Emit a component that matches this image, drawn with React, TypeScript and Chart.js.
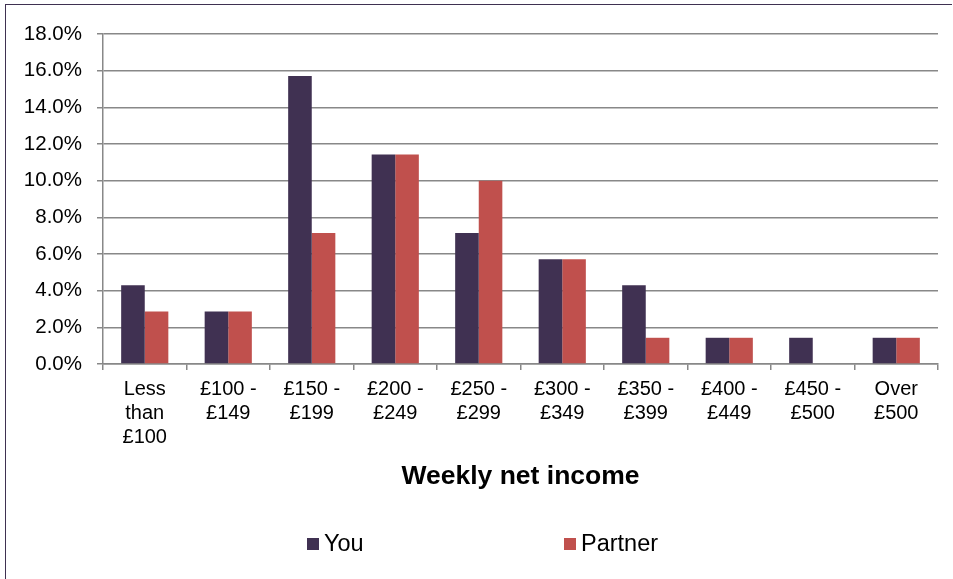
import React, { useEffect, useRef } from "react";
import { Chart, registerables } from "chart.js";

Chart.register(...registerables);

const categories: string[][] = [
  ["Less", "than", "£100"],
  ["£100 -", "£149"],
  ["£150 -", "£199"],
  ["£200 -", "£249"],
  ["£250 -", "£299"],
  ["£300 -", "£349"],
  ["£350 -", "£399"],
  ["£400 -", "£449"],
  ["£450 -", "£500"],
  ["Over", "£500"],
];

const youValues = [4.29, 2.86, 15.71, 11.43, 7.14, 5.71, 4.29, 1.43, 1.43, 1.43];
const partnerValues = [2.86, 2.86, 7.14, 11.43, 10.0, 5.71, 1.43, 1.43, 0, 1.43];

const seriesNames = ["You", "Partner"];
const seriesColors = ["#403152", "#c0504d"];

const xAxisTitle = "Weekly net income";
const yMin = 0;
const yMax = 18;
const yStep = 2;

const FONT = "'Liberation Sans', Arial, sans-serif";

const customLegend = {
  id: "customLegend",
  afterDraw(chart: any) {
    const ctx = chart.ctx;
    const itemX = [307, 564];
    const y = 544;
    const box = 12;
    ctx.save();
    ctx.font = `23.5px ${FONT}`;
    ctx.textBaseline = "middle";
    ctx.textAlign = "left";
    chart.data.datasets.forEach((ds: any, i: number) => {
      const x = itemX[i];
      ctx.fillStyle = ds.backgroundColor;
      ctx.fillRect(x, y - box / 2, box, box);
      ctx.fillStyle = "#000";
      ctx.fillText(ds.label, x + box + 5, y + 1);
    });
    ctx.restore();
  },
};

export default function App() {
  const ref = useRef<HTMLCanvasElement | null>(null);

  useEffect(() => {
    if (!ref.current) return;
    const chart = new Chart(ref.current, {
      type: "bar",
      data: {
        labels: categories,
        datasets: [
          {
            label: seriesNames[0],
            data: youValues,
            backgroundColor: seriesColors[0],
            categoryPercentage: 0.565,
            barPercentage: 1,
          },
          {
            label: seriesNames[1],
            data: partnerValues,
            backgroundColor: seriesColors[1],
            categoryPercentage: 0.565,
            barPercentage: 1,
          },
        ],
      },
      plugins: [customLegend],
      options: {
        responsive: false,
        animation: false,
        layout: { padding: { top: 34, right: 15, bottom: 86, left: 0 } },
        plugins: {
          legend: { display: false },
          tooltip: { enabled: false },
        },
        scales: {
          x: {
            afterFit(scale: any) {
              scale.height = 129;
            },
            grid: {
              drawOnChartArea: false,
              drawTicks: true,
              tickLength: 6,
              color: "#888888",
              lineWidth: 1.5,
              offset: true,
            },
            border: { color: "#888888", width: 1.5 },
            ticks: {
              color: "#000",
              font: { family: FONT, size: 20, lineHeight: 1.2 },
              padding: 7,
              maxRotation: 0,
              autoSkip: false,
            },
            title: {
              display: true,
              text: xAxisTitle,
              color: "#000",
              font: { family: FONT, size: 26.5, weight: "bold" },
              padding: { top: 0, bottom: 0 },
            },
          },
          y: {
            min: yMin,
            max: yMax,
            afterFit(scale: any) {
              scale.width = 103;
            },
            grid: {
              color: "#888888",
              lineWidth: 1.5,
              tickLength: 6,
            },
            border: { color: "#888888", width: 1.5 },
            ticks: {
              stepSize: yStep,
              color: "#000",
              font: { family: FONT, size: 20.5 },
              padding: 15,
              callback: (v: any) => Number(v).toFixed(1) + "%",
            },
          },
        },
      },
    });
    return () => chart.destroy();
  }, []);

  return (
    <div style={{ position: "fixed", left: 0, top: 0, width: 953, height: 579, background: "#fff" }}>
      <canvas ref={ref} width={953} height={579} style={{ position: "absolute", left: 0, top: 0 }} />
      <div
        style={{
          position: "absolute",
          left: 5,
          top: 4,
          width: 946,
          height: 580,
          borderTop: "1.5px solid #3f3151",
          borderLeft: "1.5px solid #3f3151",
          pointerEvents: "none",
        }}
      />
    </div>
  );
}
